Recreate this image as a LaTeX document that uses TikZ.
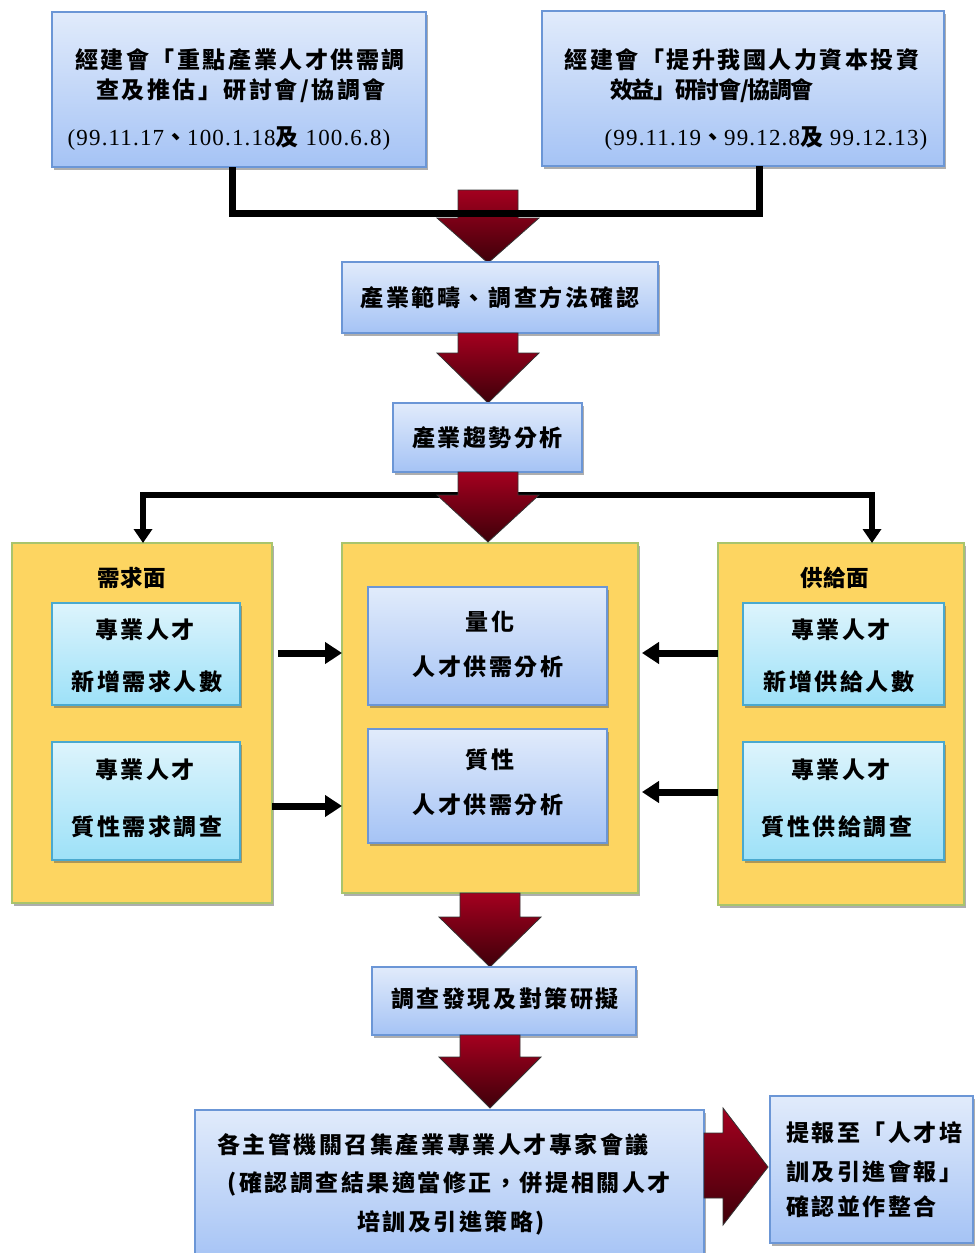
\documentclass[tikz,border=0pt]{standalone}
\usepackage{fontspec}
\usetikzlibrary{arrows.meta,shadows,calc}

\newfontfamily\cjk{Noto Sans CJK TC}[LetterSpace=11]
\newfontfamily\cjktight{Noto Sans CJK TC}[LetterSpace=-6]
\newfontfamily\cjktitle{Noto Sans CJK TC}[LetterSpace=2]
\newfontfamily\numfont{Liberation Serif}[LetterSpace=5]
\newcommand\dnum{\numfont\mdseries\fontsize{23}{26}\selectfont}

\definecolor{boxtop}{HTML}{E1EBFB}
\definecolor{boxbot}{HTML}{A5C3F5}
\definecolor{boxedge}{HTML}{6B96D6}
\definecolor{subtop}{HTML}{DDF4FC}
\definecolor{subbot}{HTML}{9DE1F8}
\definecolor{subedge}{HTML}{4AA9CF}
\definecolor{panelfill}{HTML}{FDD561}
\definecolor{paneledge}{HTML}{A9C46C}
\definecolor{arrtop}{HTML}{A4001F}
\definecolor{arrbot}{HTML}{3E0009}

\tikzset{
  softshadow/.style={drop shadow={shadow xshift=1.5pt, shadow yshift=-3pt, opacity=0.45, fill=black!70}},
  bluebox/.style={draw=boxedge, line width=1.2pt, top color=boxtop, bottom color=boxbot,
    inner sep=0pt, outer sep=0pt, softshadow},
  cyanbox/.style={draw=subedge, line width=1.2pt, top color=subtop, bottom color=subbot,
    inner sep=0pt, outer sep=0pt, softshadow},
  panelbox/.style={draw=paneledge, line width=1.2pt, fill=panelfill,
    inner sep=0pt, outer sep=0pt, softshadow},
  txt/.style={inner sep=0pt, outer sep=0pt, text height=20.2pt, text depth=2.8pt,
    font=\cjk\bfseries\fontsize{23}{27}\selectfont},
  tighttxt/.style={txt, font=\cjktight\bfseries\fontsize{23}{27}\selectfont},
  titletxt/.style={txt, font=\cjktitle\bfseries\fontsize{22.5}{27}\selectfont},
  redarrow/.style={top color=arrtop, bottom color=arrbot, draw=black!80, line width=0.8pt},
  conn/.style={line width=7pt, black, line join=miter},
  splitline/.style={line width=6pt, black, line join=miter,
    -{Triangle[width=18pt,length=14pt]}},
  sidearrow/.style={line width=7pt, black, -{Triangle[width=21pt,length=17pt]}},
}

% downward block arrow: centre x, top of shaft, base of head, tip
\newcommand\blockdown[4]{%
  \shade[redarrow] (#1-30,#2) -- (#1+30,#2) -- (#1+30,#3) -- (#1+51,#3)
    -- (#1,#4) -- (#1-51,#3) -- (#1-30,#3) -- cycle;}

\begin{document}
\begin{tikzpicture}[x=1pt,y=-1pt]
\useasboundingbox[fill=white] (0,0) rectangle (976,1253);

% meetings at the top
\node[bluebox, minimum width=374pt, minimum height=155pt] (tl) at (239,89.5) {};
\node[bluebox, minimum width=402pt, minimum height=155pt] (tr) at (743,88.5) {};
\node[txt] (tl1) at (240,60) {經建會「重點產業人才供需調};
\node[txt] (tl2) at (241,90) {查及推估」研討會/協調會};
\node[txt] (tl3) at (229,137) {{\dnum(99.11.17}、{\dnum 100.1.18}及{\dnum\ 100.6.8)}};
\node[txt] (tr1) at (742,60) {經建會「提升我國人力資本投資};
\node[tighttxt] (tr2) at (712,90) {效益」研討會/協調會};
\node[txt] (tr3) at (766,137) {{\dnum(99.11.19}、{\dnum 99.12.8}及{\dnum\ 99.12.13)}};

% first block arrow, crossed by the joining line
\blockdown{488}{190}{218}{263}
\coordinate (j1) at (232,213);
\coordinate (j2) at (759,213);
\draw[conn] (j1 |- tl.south) -- (j1) -- (j2) -- (j2 |- tr.south);

% scope and trend steps
\node[bluebox, minimum width=316pt, minimum height=71pt] (scope) at (500,297.5) {};
\node[txt] at (scope.center) {產業範疇、調查方法確認};
\blockdown{488}{333}{353}{403}
\node[bluebox, minimum width=189pt, minimum height=69pt] (trend) at (487.5,437.5) {};
\node[txt] at (trend.center) {產業趨勢分析};

% demand / analysis / supply panels
\node[panelbox, minimum width=260pt, minimum height=360pt] (lp) at (142,723) {};
\node[panelbox, minimum width=296pt, minimum height=350pt] (cp) at (490,718) {};
\node[panelbox, minimum width=246pt, minimum height=362pt] (rp) at (841,724) {};

% split line to both sides
\coordinate (sm) at (488,495);
\coordinate (s1) at (143,495);
\coordinate (s2) at (872,495);
\draw[splitline] (sm) -- (s1) -- (s1 |- lp.north);
\draw[splitline] (sm) -- (s2) -- (s2 |- rp.north);
\blockdown{488}{472}{495}{542}

\node[titletxt] (lt) at (132,578) {需求面};
\node[cyanbox, minimum width=188pt, minimum height=102pt] (lq1) at (146,654) {};
\node[cyanbox, minimum width=188pt, minimum height=118pt] (lq2) at (146,801) {};
\node[txt] at (145,630) {專業人才};
\node[txt] at (147,682) {新增需求人數};
\node[txt] at (145,770) {專業人才};
\node[txt] at (147,827) {質性需求調查};

\node[bluebox, minimum width=239pt, minimum height=118pt] (cq1) at (487.5,646) {};
\node[bluebox, minimum width=239pt, minimum height=114pt] (cq2) at (487.5,786) {};
\node[txt] at (490,622) {量化};
\node[txt] at (488,667) {人才供需分析};
\node[txt] at (490,760) {質性};
\node[txt] at (488,805) {人才供需分析};

\node[titletxt] (rt) at (835,578) {供給面};
\node[cyanbox, minimum width=201pt, minimum height=102pt] (rq1) at (843.5,654) {};
\node[cyanbox, minimum width=201pt, minimum height=118pt] (rq2) at (843.5,801) {};
\node[txt] at (841,630) {專業人才};
\node[txt] at (839,682) {新增供給人數};
\node[txt] at (841,770) {專業人才};
\node[txt] at (837,827) {質性供給調查};

% side arrows into the analysis panel
\draw[sidearrow] ($(lq1.east -| lp.east)+(6,-1)$) -- ($(cp.west |- lq1.east)+(0,-1)$);
\draw[sidearrow] ($(lq2.east -| lp.east)+(0,5)$) -- ($(cp.west |- lq2.east)+(0,5)$);
\draw[sidearrow] ($(rq1.west -| rp.west)+(0,-1)$) -- ($(cp.east |- rq1.west)+(4,-1)$);
\draw[sidearrow] ($(rq2.west -| rp.west)+(0,-9)$) -- ($(cp.east |- rq2.west)+(4,-9)$);

% findings and follow-up
\blockdown{490}{893}{917}{967}
\node[bluebox, minimum width=264pt, minimum height=68pt] (find) at (504,1001) {};
\node[txt] at (505,999) {調查發現及對策研擬};
\blockdown{490}{1035}{1057}{1108}
\node[bluebox, minimum width=509pt, minimum height=152pt] (meet) at (449.5,1186) {};
\node[txt] at (433,1145) {各主管機關召集產業專業人才專家會議};
\node[txt] at (449,1183) {(確認調查結果適當修正，併提相關人才};
\node[txt] at (451,1222) {培訓及引進策略)};

\shade[redarrow] (meet.east |- 0,1133) -- (723,1133) -- (723,1108) -- (768,1167)
  -- (723,1225) -- (723,1198) -- (meet.east |- 0,1198) -- cycle;

\node[bluebox, minimum width=203pt, minimum height=147pt] (report) at (871.5,1169.5) {};
\node[txt, anchor=west] at (786,1133) {提報至「人才培};
\node[txt, anchor=west] at (786,1172) {訓及引進會報」};
\node[txt, anchor=west] at (786,1207) {確認並作整合};
\end{tikzpicture}
\end{document}
